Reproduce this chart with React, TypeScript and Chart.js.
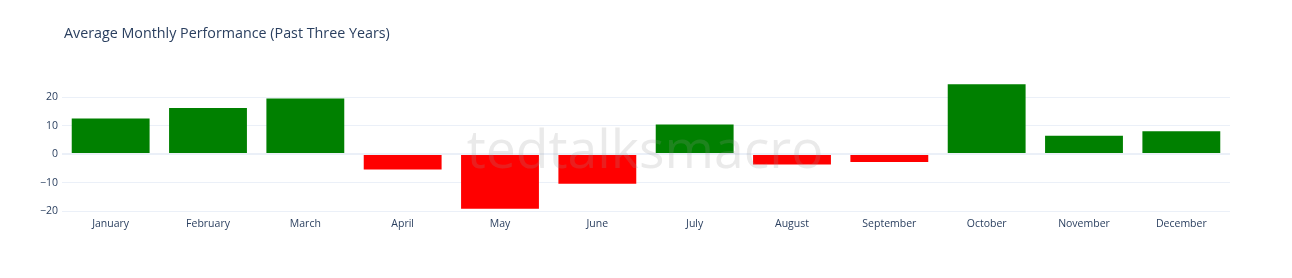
import React, { useEffect, useRef } from "react";
import { Chart, registerables } from "chart.js";

Chart.register(...registerables);

const months = [
  "January", "February", "March", "April", "May", "June",
  "July", "August", "September", "October", "November", "December",
];
const performance = [12.5, 16.2, 19.5, -5.4, -19.2, -10.4, 10.4, -3.7, -2.8, 24.5, 6.4, 8.0];
const yTicks = [-20, -10, 0, 10, 20];
const titleText = "Average Monthly Performance (Past Three Years)";
const watermark = "tedtalksmacro";

const FONT = "'Open Sans', 'DejaVu Sans', Arial, sans-serif";
const TEXT = "#2a3f5f";

export default function App() {
  const ref = useRef<HTMLCanvasElement>(null);
  useEffect(() => {
    document.body.style.margin = "0";
    const overlay = {
      id: "overlay",
      beforeDraw(chart: any) {
        const ctx = chart.ctx;
        ctx.save();
        ctx.fillStyle = "#ffffff";
        ctx.fillRect(0, 0, chart.width, chart.height);
        ctx.fillStyle = TEXT;
        ctx.font = `14.3px ${FONT}`;
        ctx.textAlign = "left";
        ctx.textBaseline = "middle";
        ctx.fillText(titleText, 64, 34);
        ctx.restore();
      },
      afterDatasetsDraw(chart: any) {
        const ctx = chart.ctx;
        const a = chart.chartArea;
        ctx.save();
        ctx.fillStyle = "rgba(150,150,150,0.2)";
        ctx.font = `53.5px ${FONT}`;
        ctx.textAlign = "center";
        ctx.textBaseline = "alphabetic";
        ctx.fillText(watermark, 645, 168);
        ctx.restore();
      },
    };
    const chart = new Chart(ref.current!, {
      type: "bar",
      data: {
        labels: months,
        datasets: [
          {
            data: performance,
            backgroundColor: performance.map((v) => (v >= 0 ? "#008000" : "#ff0000")),
            borderWidth: 0,
            barPercentage: 0.8,
            categoryPercentage: 1,
          },
        ],
      },
      options: {
        animation: false,
        responsive: false,
        maintainAspectRatio: false,
        layout: { padding: { top: 78, bottom: 0, left: 0, right: 62 } },
        plugins: { legend: { display: false }, title: { display: false }, tooltip: { enabled: false } },
        scales: {
          x: {
            grid: { display: false, drawTicks: false },
            border: { display: false },
            ticks: { color: TEXT, font: { family: FONT, size: 10.5 }, padding: 3, maxRotation: 0, autoSkip: false },
            afterFit(scale: any) { scale.height = 63; },
          },
          y: {
            min: -21.4,
            max: 26.7,
            grid: {
              drawTicks: false,
              color: (c: any) => "#ebf0f8",
              lineWidth: (c: any) => (c.tick && c.tick.value === 0 ? 2 : 1),
            },
            border: { display: false },
            afterBuildTicks(scale: any) { scale.ticks = yTicks.map((v) => ({ value: v })); },
            ticks: {
              color: TEXT,
              font: { family: FONT, size: 10.5 },
              padding: 4,
              callback: (v: any) => (Number(v) < 0 ? "\u2212" + Math.abs(Number(v)) : String(v)),
            },
            afterFit(scale: any) { scale.width = 62; },
          },
        },
      },
      plugins: [overlay],
    });
    return () => chart.destroy();
  }, []);
  return (
    <div style={{ position: "relative", width: 1292, height: 278 }}>
      <canvas ref={ref} width={1292} height={278} style={{ display: "block", width: 1292, height: 278 }} />
    </div>
  );
}
